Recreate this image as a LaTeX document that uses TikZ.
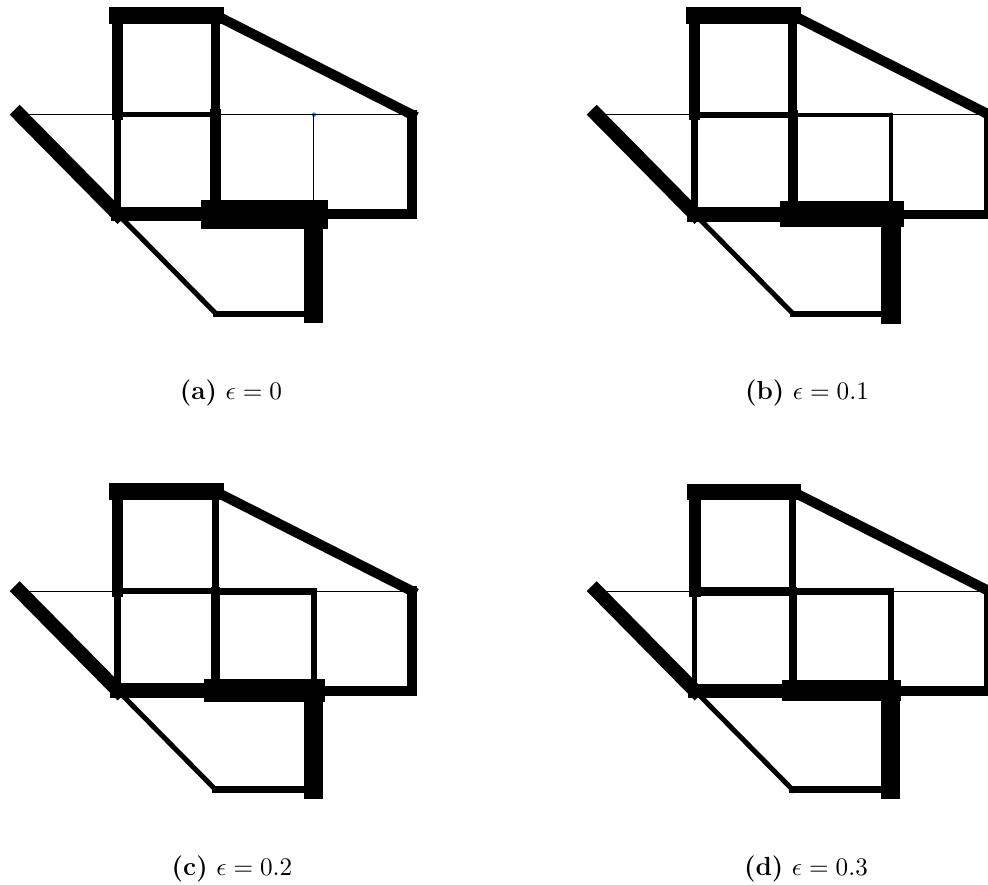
\documentclass[tikz,border=0pt]{standalone}
\definecolor{dotblue}{HTML}{3C8DD6}
\tikzset{
  bar/.style={line width=#1*0.435pt, line cap=rect, black},
  captext/.style={anchor=base, inner sep=0pt, font=\fontsize{11.4pt}{13.5pt}\selectfont},
  jointdot/.style={fill=dotblue}
}
\newcommand\trusspts[3]{%
  \foreach \i in {0,...,4}{%
    \foreach \j in {0,...,3}{%
      \coordinate (#1-\i\j) at ({19.6+98.1*\i+#2},{15.3+99.4*\j+#3});
    }%
  }%
}
\newcommand\trussdraw[2]{%
  \fill[jointdot] (#1-31) circle[radius=1pt];
  \foreach \s/\t/\w in {#2}{%
    \draw[bar=\w] (#1-\s) -- (#1-\t);
  }%
}
\begin{document}
\begin{tikzpicture}[x=0.435pt,y=-0.435pt]
\useasboundingbox (0,0) rectangle (988,884);
\clip (0,0) rectangle (988,884);
\fill[white] (0,0) rectangle (988,884);
\trusspts{a}{0}{0}
\trusspts{b}{577}{0}
\trusspts{c}{0}{476.4}
\trusspts{d}{577}{476.4}
% panel (a)
\trussdraw{a}{01/11/1, 21/31/1, 31/41/1, 31/32/1,
  11/21/4.5, 12/23/5, 23/33/6, 11/12/7.5, 20/21/9, 20/41/10,
  41/42/10, 32/42/10, 10/11/11, 21/22/11, 01/12/14, 12/22/14,
  10/20/17, 32/33/19, 22/32/29}
% panel (b)
\trussdraw{b}{01/11/1, 31/41/1,
  21/31/4, 31/32/4, 11/21/6, 12/23/5, 23/33/6, 11/12/7, 20/21/9, 20/41/10,
  41/42/10, 32/42/9, 10/11/11, 21/22/10, 01/12/14, 12/22/15,
  10/20/17, 32/33/20, 22/32/26}
% panel (c)
\trussdraw{c}{01/11/1, 31/41/1,
  21/31/7, 31/32/6, 11/21/6.5, 12/23/5, 23/33/7, 11/12/6.5, 20/21/7, 20/41/10,
  41/42/10, 32/42/10, 10/11/11, 21/22/9, 01/12/14, 12/22/15,
  10/20/17, 32/33/19, 22/32/23}
% panel (d)
\trussdraw{d}{01/11/1, 31/41/1,
  21/31/7, 31/32/6, 11/21/9, 12/23/5, 23/33/7, 11/12/5, 20/21/7, 20/41/10,
  41/42/10, 32/42/10, 10/11/12, 21/22/8, 01/12/14, 12/22/14,
  10/20/16, 32/33/19, 22/32/21}
% captions
\node[captext] (capa) at (231,399) {\textbf{(a)} $\epsilon=0$};
\node[captext] (capb) at (807,399) {\textbf{(b)} $\epsilon=0.1$};
\node[captext] (capc) at (232,875) {\textbf{(c)} $\epsilon=0.2$};
\node[captext] (capd) at (806,875) {\textbf{(d)} $\epsilon=0.3$};
\end{tikzpicture}
\end{document}
